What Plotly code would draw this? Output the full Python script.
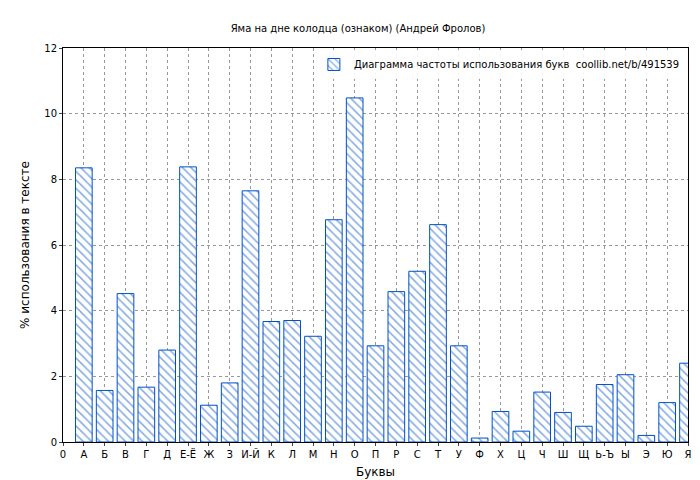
import plotly.graph_objects as go

letters = ["А","Б","В","Г","Д","Е-Ё","Ж","З","И-Й","К","Л","М","Н","О","П","Р","С","Т","У","Ф","Х","Ц","Ч","Ш","Щ","Ь-Ъ","Ы","Э","Ю","Я"]
values = [8.35,1.57,4.52,1.67,2.8,8.38,1.12,1.8,7.65,3.67,3.7,3.22,6.77,10.48,2.93,4.58,5.2,6.62,2.93,0.12,0.93,0.33,1.52,0.9,0.48,1.75,2.05,0.2,1.2,2.4]
tick_labels = ["0"] + letters
positions = list(range(1, len(letters)+1))

fig = go.Figure(go.Bar(
    x=positions, y=values, width=0.8,
    name="Диаграмма частоты использования букв  coollib.net/b/491539",
    marker=dict(color="white", line=dict(color="#0050c8", width=1),
                pattern=dict(shape="\\", fgcolor="#0050c8", bgcolor="white", size=6, solidity=0.25)),
    showlegend=True,
))
fig.update_layout(
    width=700, height=480, paper_bgcolor="white", plot_bgcolor="white",
    font=dict(family="DejaVu Sans", size=10, color="black"),
    title=dict(text="Яма на дне колодца (ознаком) (Андрей Фролов)", x=0.5, y=0.965, font=dict(size=10)),
    margin=dict(l=55, r=20, t=40, b=46, autoexpand=False),
    legend=dict(x=0.995, y=0.995, xanchor="right", yanchor="top", bgcolor="rgba(255,255,255,0.9)",
                font=dict(size=10), tracegroupgap=0),
    bargap=0.2,
)
fig.update_xaxes(range=[0, 30], tickmode="array", tickvals=list(range(0, 31)), ticktext=tick_labels,
                 showgrid=True, gridcolor="#999", griddash="dot", showline=True, linecolor="black", mirror=True,
                 ticks="outside", ticklen=3, automargin=False, title=dict(text="Буквы", standoff=8))
fig.update_yaxes(range=[0, 12], dtick=2, showgrid=True, gridcolor="#999", griddash="dot",
                 showline=True, linecolor="black", mirror=True, ticks="outside", ticklen=3, automargin=False,
                 title=dict(text="% использования в тексте", standoff=12), zeroline=False)
fig.write_html("out.html")
